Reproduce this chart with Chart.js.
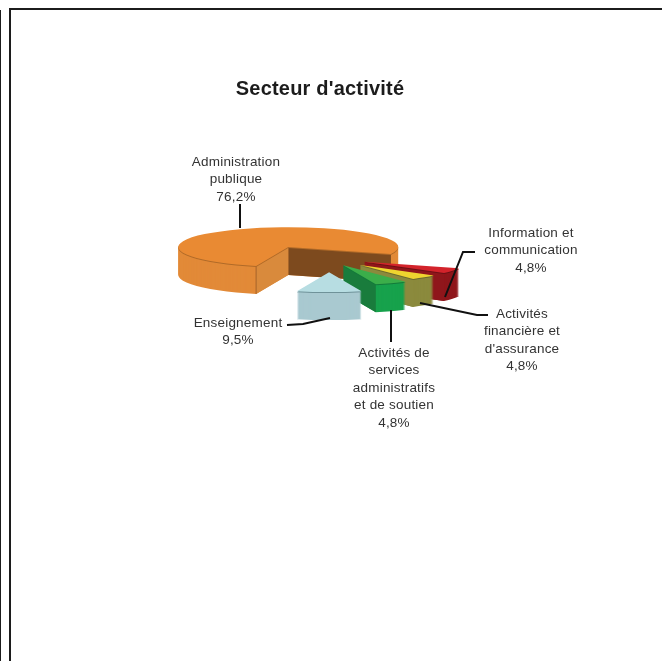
<!DOCTYPE html>
<html lang="fr">
<head>
<meta charset="utf-8">
<title>Secteur d'activité</title>
<script src="https://cdn.jsdelivr.net/npm/chart.js@4"></script>
<style>
  html, body { margin: 0; padding: 0; background: #fff; overflow: hidden; }
  #wrap { position: relative; width: 662px; height: 661px; }
  #pie { position: absolute; left: 0; top: 0; }
  .rule { position: absolute; background: #1c1c1c; }
</style>
</head>
<body>
<div id="wrap">
  <canvas id="pie" width="662" height="661"></canvas>
  <div class="rule" style="left:9px;top:8px;width:653px;height:2px"></div>
  <div class="rule" style="left:9px;top:8px;width:2px;height:653px"></div>
  <div class="rule" style="left:0;top:10px;width:1px;height:651px"></div>
</div>
<script>
const chartTitle = "Secteur d'activité";
const categories = [
  ['Administration', 'publique'],
  ['Information et', 'communication'],
  ['Activités', 'financière et', "d'assurance"],
  ['Activités de', 'services', 'administratifs', 'et de soutien'],
  ['Enseignement']
];
const shares = [76.2, 4.8, 4.8, 4.8, 9.5];

const topColors = ['#e98a33', '#d3232b', '#eed52f', '#3bae4a', '#b7dde2'];
const rimColors = ['#e28a38', '#8f161b', '#8b8a3d', '#17a24c', '#a9c9d0'];
const edgeColors = ['#b06a28', '#6e1014', '#6b6a2c', '#137a3a', '#6f9299'];
const wallColors = [null, '#8f161b', '#8b8a3d', '#197c3c', null];

// 3d look: slices pushed out from the pie centre, then squashed
const explode = [93, 41, 46, 33, 57];
const sliceScale = [1, 0.92, 0.85, 1, 1]; // far slices look shorter in the original
const lift = [0, 4, 3, 2, 0];
const pieCentre = { x: 329, y: 262 };
const squash = 0.18;
const depth = 28;

const labelLayout = [
  { x: 236, y: 162 },
  { x: 531, y: 233 },
  { x: 522, y: 314 },
  { x: 394, y: 353 },
  { x: 238, y: 323 }
];
const leaders = [
  [[240, 204], [240, 228]],
  [[445, 297], [463, 252], [475, 252]],
  [[420, 303], [477, 315], [488, 315]],
  [[391, 310], [391, 342]],
  [[287, 325], [303, 324], [330, 318]]
];

function formatShare(v) {
  return v.toFixed(1).replace('.', ',') + '%';
}

function midAngle(arc) {
  return (arc.startAngle + arc.endAngle) / 2;
}

// screen position of a point on a slice
function project(arc, i, angle, radius, drop) {
  const m = midAngle(arc);
  const r = radius * sliceScale[i];
  return {
    x: pieCentre.x + Math.cos(m) * explode[i] + Math.cos(angle) * r,
    y: pieCentre.y - lift[i] + drop + squash * (Math.sin(m) * explode[i] + Math.sin(angle) * r)
  };
}

function paintArc(ctx, arc, i, colour, drop) {
  const m = midAngle(arc);
  const saved = arc.options;
  ctx.save();
  ctx.translate(pieCentre.x, pieCentre.y - lift[i] + drop);
  ctx.scale(1, squash);
  ctx.translate(Math.cos(m) * explode[i], Math.sin(m) * explode[i]);
  ctx.scale(sliceScale[i], sliceScale[i]);
  ctx.translate(-arc.x, -arc.y);
  arc.options = { ...saved, backgroundColor: colour };
  arc.draw(ctx);
  arc.options = saved;
  ctx.restore();
}

function paintWall(ctx, arc, i, angle, colour) {
  const a = project(arc, i, angle, 0, 0);
  const b = project(arc, i, angle, arc.outerRadius, 0);
  ctx.fillStyle = colour;
  ctx.beginPath();
  ctx.moveTo(a.x, a.y);
  ctx.lineTo(b.x, b.y);
  ctx.lineTo(b.x, b.y + depth);
  ctx.lineTo(a.x, a.y + depth);
  ctx.closePath();
  ctx.fill();
}

const pie3d = {
  id: 'pie3d',
  beforeDraw(chart) {
    chart.ctx.letterSpacing = '0.2px'; // for the title
  },
  beforeDatasetsDraw(chart) {
    const ctx = chart.ctx;
    chart.getDatasetMeta(0).data.forEach((arc, i) => {
      for (let d = depth; d > 0; d--) paintArc(ctx, arc, i, rimColors[i], d);
      if (i === 0) {
        // the notch left by the other slices
        paintWall(ctx, arc, i, arc.endAngle, '#7d4a1e');
        paintWall(ctx, arc, i, arc.startAngle, '#d98a3c');
        const corner = project(arc, i, arc.startAngle, arc.outerRadius, 0);
        ctx.strokeStyle = '#a5642a';
        ctx.lineWidth = 1;
        ctx.beginPath();
        ctx.moveTo(corner.x, corner.y);
        ctx.lineTo(corner.x, corner.y + depth);
        ctx.stroke();
      } else if (wallColors[i]) {
        paintWall(ctx, arc, i, arc.endAngle, wallColors[i]);
      }
      paintArc(ctx, arc, i, edgeColors[i], 1);
      paintArc(ctx, arc, i, topColors[i], 0);
    });
    return false;
  },
  afterDraw(chart) {
    const ctx = chart.ctx;
    ctx.save();
    ctx.strokeStyle = '#111';
    ctx.lineWidth = 2;
    leaders.forEach(points => {
      ctx.beginPath();
      points.forEach((p, n) => n ? ctx.lineTo(p[0], p[1]) : ctx.moveTo(p[0], p[1]));
      ctx.stroke();
    });
    ctx.fillStyle = '#333';
    ctx.font = '13.5px "Liberation Sans"';
    ctx.letterSpacing = '0.2px';
    ctx.textAlign = 'center';
    ctx.textBaseline = 'middle';
    categories.forEach((lines, i) => {
      const pos = labelLayout[i];
      const rows = lines.concat(formatShare(shares[i]));
      rows.forEach((row, n) => ctx.fillText(row, pos.x, pos.y + n * 17.5));
    });
    ctx.restore();
    ctx.letterSpacing = '0px';
  }
};

new Chart(document.getElementById('pie'), {
  type: 'pie',
  data: {
    labels: categories.map(c => c.join(' ')),
    datasets: [{
      data: shares,
      backgroundColor: topColors,
      borderWidth: 0,
      radius: 110,
      rotation: 197
    }]
  },
  options: {
    responsive: false,
    animation: false,
    layout: { padding: { right: 22 } },
    plugins: {
      legend: { display: false },
      tooltip: { enabled: false },
      title: {
        display: true,
        text: chartTitle,
        color: '#1c1c1c',
        font: { family: '"Liberation Sans"', size: 20, weight: 'bold' },
        padding: { top: 77, bottom: 10 }
      }
    }
  },
  plugins: [pie3d]
});
</script>
</body>
</html>
